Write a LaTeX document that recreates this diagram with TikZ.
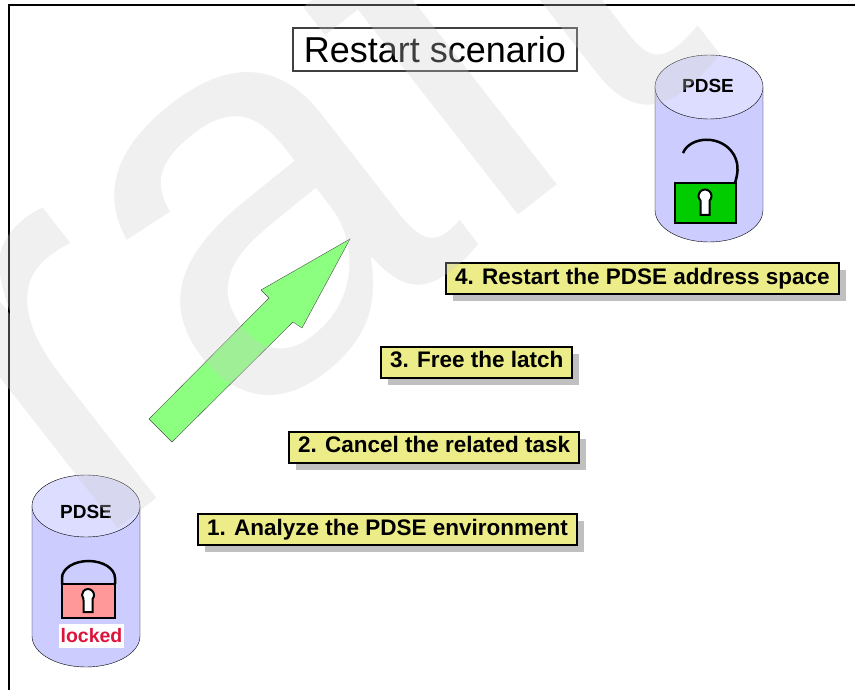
\documentclass[tikz,border=0pt]{standalone}
\usepackage{fontspec}
\setmainfont{Liberation Sans}
\usetikzlibrary{shadows}
\definecolor{dbbody}{RGB}{204,204,255}
\definecolor{dbtop}{RGB}{221,221,255}
\definecolor{taskfill}{RGB}{236,236,136}
\definecolor{shadowgray}{RGB}{192,192,192}
\definecolor{lockred}{RGB}{255,153,153}
\definecolor{lockgreen}{RGB}{0,204,0}
\definecolor{arrowgreen}{RGB}{140,255,128}
\definecolor{lockedtext}{RGB}{220,20,60}

\begin{document}
\begin{tikzpicture}[x=1pt,y=-1pt,
    task/.style={draw,line width=2pt,fill=taskfill,anchor=west,
      font=\fontsize{22.5}{24}\selectfont\bfseries,
      inner xsep=9pt,minimum height=31pt,text height=16pt,text depth=4.5pt,
      drop shadow={shadow xshift=7pt,shadow yshift=-7pt,fill=shadowgray,opacity=1}},
    dbname/.style={font=\fontsize{19}{20}\selectfont\bfseries},
    lockline/.style={line width=2.5pt,line join=miter},
    keyhole/.style={fill=white,line width=2pt}]
  \useasboundingbox (0,0) rectangle (855,690);
  \draw[line width=1.2pt] (9,690) -- (9,5) -- (855,5);

  \node[draw=black!75,line width=1.5pt,minimum width=284pt,minimum height=43pt,
    inner sep=0pt,font=\fontsize{36}{37}\selectfont] (title) at (435,49.5) {Restart scenario};

  % data set after the restart, lock open
  \draw[fill=dbbody] (655,87) -- (655,210) arc[start angle=180,end angle=0,x radius=54,y radius=32] -- (763,87) -- cycle;
  \draw[fill=dbtop] (709,87) ellipse [x radius=54,y radius=32];
  \node[dbname] (pdse-open) at (708,86) {PDSE};
  \draw[line width=2.5pt] (683,153) .. controls (690,136) and (722,134) .. (734,155)
    .. controls (740,166) and (737,176) .. (735,183);
  \draw[lockline,fill=lockgreen] (675,183) rectangle (736,223);
  \draw[keyhole] (709.5,200.7) arc[start angle=46.2,end angle=-226.2,radius=6.5] -- (700.5,215) -- (709.5,215) -- cycle;

  % data set with the latch held
  \draw[fill=dbbody] (32,506) -- (32,636) arc[start angle=180,end angle=0,x radius=54,y radius=31] -- (140,506) -- cycle;
  \draw[fill=dbtop] (86,506) ellipse [x radius=54,y radius=31];
  \node[dbname] (pdse-held) at (86,512) {PDSE};
  \draw[line width=2.5pt] (62,584) -- (62,578) arc[start angle=180,end angle=360,x radius=26.5,y radius=17] -- (115,584);
  \draw[lockline,fill=lockred] (62,584) rectangle (115,618);
  \draw[keyhole] (92.5,599) arc[start angle=41.4,end angle=-221.4,radius=6] -- (83.5,612) -- (92.5,612) -- cycle;
  \node[fill=white,text=lockedtext,font=\fontsize{19.5}{20}\selectfont\bfseries,inner sep=1pt,
    minimum width=65pt,minimum height=24pt] (locked) at (91.5,636) {locked};

  % recovery direction
  \draw[black!70,fill=arrowgreen,line join=miter] (149,419) -- (269,298) -- (261,290) -- (350,239)
    -- (302,328) -- (293,322) -- (172,442) -- cycle;

  \node[task] (analyze) at (197,529.5) {1. Analyze the PDSE environment};
  \node[task] (cancel) at (288,447) {2. Cancel the related task};
  \node[task] (free) at (380,362) {3. Free the latch};
  \node[task] (restart) at (445,278.5) {4. Restart the PDSE address space};

  \begin{scope}
    \clip (0,0) rectangle (855,690);
    \node[rotate=38,text=black!20,opacity=0.3,font=\fontsize{560}{560}\selectfont] (draft) at (124,270) {Draft};
  \end{scope}
\end{tikzpicture}
\end{document}
